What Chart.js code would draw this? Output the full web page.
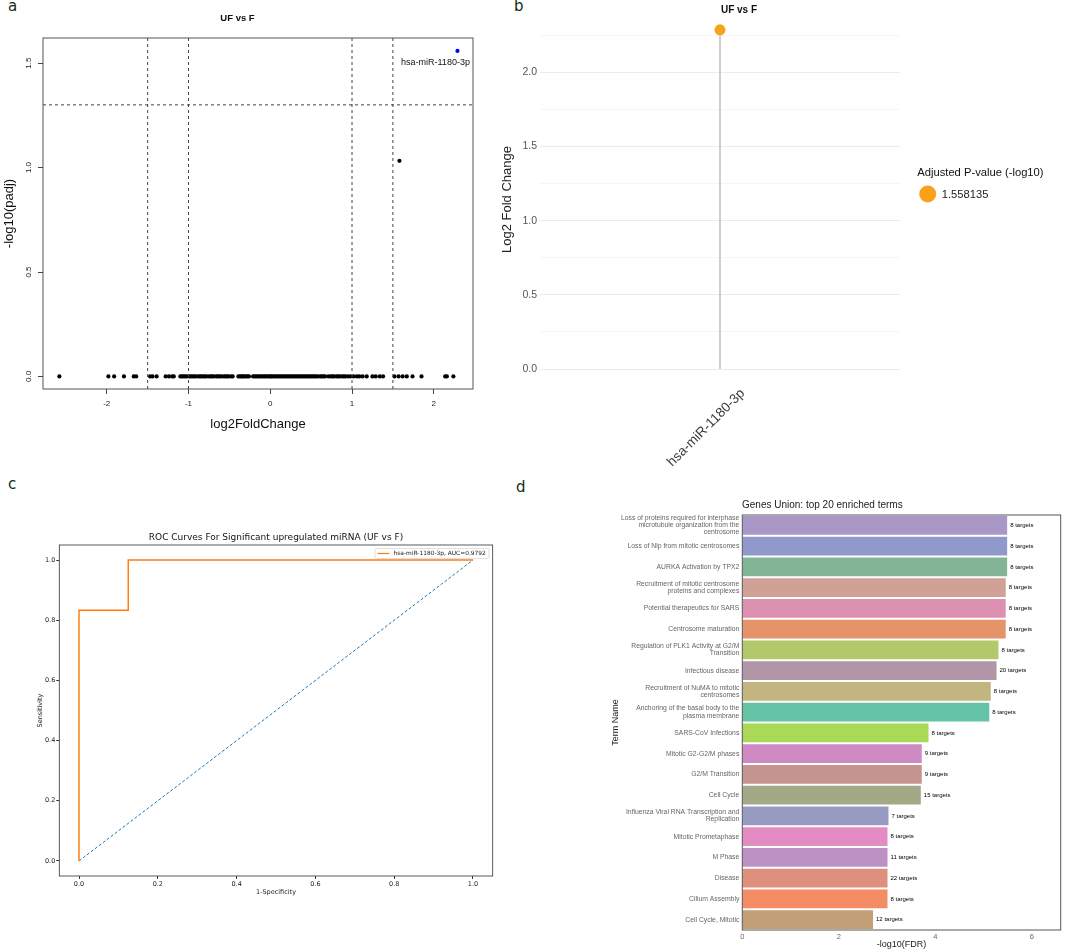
<!DOCTYPE html>
<html>
<head>
<meta charset="utf-8">
<script src="https://cdn.jsdelivr.net/npm/chart.js@4.4.0/dist/chart.umd.min.js"></script>
<style>
  body { margin: 0; background: #fff; width: 1065px; height: 951px; position: relative; overflow: hidden; }
  .panel { position: absolute; }
  .tag { position: absolute; font: 15px "DejaVu Sans", sans-serif; color: #142c14; line-height: 1; }
</style>
</head>
<body>
<div class="tag" style="left:8px;top:-1px">a</div>
<div class="tag" style="left:514px;top:-1px">b</div>
<div class="tag" style="left:8px;top:477px">c</div>
<div class="tag" style="left:516px;top:480px">d</div>

<div class="panel" style="left:0;top:0;width:500px;height:440px"><canvas id="volcano"></canvas></div>
<div class="panel" style="left:500px;top:0;width:565px;height:470px"><canvas id="lollipop"></canvas></div>
<div class="panel" style="left:0;top:470px;width:500px;height:480px"><canvas id="roc"></canvas></div>
<div class="panel" style="left:500px;top:470px;width:565px;height:480px"><canvas id="terms"></canvas></div>

<script>
// ---- panel a: volcano ----
// miRNAs whose -log10(padj) is 0
const nsFoldChange = [
  -2.58, -1.98, -1.91, -1.79, -1.67, -1.64,
  -1.47, -1.44, -1.39, -1.28, -1.24, -1.20, -1.18,
  -1.10, -1.08, -1.06, -1.04, -1.02, -0.99, -0.97, -0.95, -0.93, -0.91, -0.88, -0.86, -0.84,
  -0.82, -0.80, -0.78, -0.75, -0.73, -0.71, -0.69, -0.66, -0.64, -0.62, -0.60, -0.57, -0.55,
  -0.53, -0.51, -0.48, -0.46,
  -0.39, -0.37, -0.35, -0.34, -0.32, -0.30, -0.28, -0.26,
  -0.21, -0.19, -0.17, -0.15, -0.13, -0.11, -0.09, -0.07, -0.05, -0.03, -0.01, 0.01, 0.02,
  0.04, 0.06, 0.08, 0.10, 0.12, 0.14, 0.16, 0.18, 0.20, 0.22, 0.24, 0.26, 0.28, 0.30, 0.32,
  0.34, 0.36, 0.38, 0.40, 0.42, 0.44, 0.46, 0.48, 0.50, 0.52, 0.54, 0.56, 0.58, 0.61, 0.63,
  0.65, 0.67,
  0.71, 0.74, 0.76, 0.78, 0.81, 0.83, 0.85, 0.88, 0.90, 0.92, 0.95, 0.98, 1.02, 1.06,
  1.09, 1.13, 1.18, 1.25, 1.29, 1.34, 1.38,
  1.52, 1.57, 1.62, 1.67, 1.74, 1.85,
  2.14, 2.16, 2.24
];
const nsLog10Padj = 0;
const otherFoldChange = [1.58];
const otherLog10Padj = [1.032];
const sigNames = ['hsa-miR-1180-3p'];
const sigFoldChange = [2.29];
const sigLog10Padj = [1.558];
const fcCutoffs = [-1.5, -1, 1, 1.5];
const padjCutoff = 1.3;
const volcanoXRange = [-2.78, 2.48];
const volcanoYRange = [-0.06, 1.62];
const volcanoXTicks = [-2, -1, 0, 1, 2];
const volcanoYTicks = [0, 0.5, 1.0, 1.5];

// ---- panel b: lollipop ----
const lolliNames = ['hsa-miR-1180-3p'];
const lolliFoldChange = [2.287];
const lolliPadjLabel = ['1.558135'];
const lolliYRange = [-0.114, 2.4];
const lolliYTicks = [0, 0.25, 0.5, 0.75, 1.0, 1.25, 1.5, 1.75, 2.0, 2.25];

// ---- panel c: ROC ----
const rocFpr = [0, 0, 0.125, 0.125, 1];
const rocTpr = [0, 0.8333, 0.8333, 1, 1];
const rocAuc = '0.9792';
const chanceFpr = [0, 1];
const chanceTpr = [0, 1];
const rocTicks = [0, 0.2, 0.4, 0.6, 0.8, 1.0];

// ---- panel d: enriched terms ----
const termNames = [
  ['Loss of proteins required for interphase', 'microtubule organization from the', 'centrosome'],
  'Loss of Nlp from mitotic centrosomes',
  'AURKA Activation by TPX2',
  ['Recruitment of mitotic centrosome', 'proteins and complexes'],
  'Potential therapeutics for SARS',
  'Centrosome maturation',
  ['Regulation of PLK1 Activity at G2/M', 'Transition'],
  'Infectious disease',
  ['Recruitment of NuMA to mitotic', 'centrosomes'],
  ['Anchoring of the basal body to the', 'plasma membrane'],
  'SARS-CoV Infections',
  'Mitotic G2-G2/M phases',
  'G2/M Transition',
  'Cell Cycle',
  ['Influenza Viral RNA Transcription and', 'Replication'],
  'Mitotic Prometaphase',
  'M Phase',
  'Disease',
  'Cilium Assembly',
  'Cell Cycle, Mitotic'
];
const termLog10Fdr = [5.49, 5.49, 5.49, 5.46, 5.46, 5.46, 5.31, 5.27, 5.15, 5.12,
                      3.86, 3.72, 3.72, 3.70, 3.03, 3.01, 3.01, 3.01, 3.01, 2.71];
const termTargets = [8, 8, 8, 8, 8, 8, 8, 20, 8, 8, 8, 9, 9, 15, 7, 8, 11, 22, 8, 12];
const termXTicks = [0, 2, 4, 6];
const termPalette = ['#a997c8', '#9199cb', '#82b595', '#d0a196', '#dd91b1', '#e5946a', '#b3c76b',
                     '#b096a7', '#c3b57f', '#64c4a5', '#a9d956', '#cf8ac3', '#c6948f', '#a3a887',
                     '#979bc1', '#e38bc2', '#be91c4', '#de8f7d', '#f48c66', '#c29f77'];

const SANS = '"Liberation Sans", Arial, sans-serif';
const DEJAVU = '"DejaVu Sans", sans-serif';
Chart.defaults.font.family = SANS;
Chart.defaults.animation = false;
Chart.defaults.plugins.legend.display = false;
Chart.defaults.plugins.tooltip.enabled = false;

function txt(ctx, s, x, y, font, color, align, base, rot) {
  ctx.save();
  ctx.font = font;
  ctx.fillStyle = color;
  ctx.textAlign = align || 'center';
  ctx.textBaseline = base || 'middle';
  ctx.translate(x, y);
  if (rot) ctx.rotate(rot);
  ctx.fillText(s, 0, 0);
  ctx.restore();
}

const fixTicks = vals => scale => { scale.ticks = vals.map(v => ({ value: v })); };

function frame(color, width) {
  return {
    id: 'frame',
    afterDraw(chart) {
      const a = chart.chartArea, c = chart.ctx;
      c.save();
      c.strokeStyle = color;
      c.lineWidth = width;
      c.strokeRect(a.left, a.top, a.right - a.left, a.bottom - a.top);
      c.restore();
    }
  };
}

// volcano
const cutoffLines = fcCutoffs.map(c => ({
  data: [{ x: c, y: volcanoYRange[0] }, { x: c, y: volcanoYRange[1] }]
})).concat([{
  data: [{ x: volcanoXRange[0], y: padjCutoff }, { x: volcanoXRange[1], y: padjCutoff }]
}]).map(d => Object.assign(d, {
  showLine: true, borderColor: '#444', borderWidth: 1, borderDash: [3, 3], pointRadius: 0, clip: 0
}));

new Chart(document.getElementById('volcano'), {
  type: 'scatter',
  data: {
    datasets: cutoffLines.concat([
      { data: nsFoldChange.map(x => ({ x: x, y: nsLog10Padj })), backgroundColor: '#000', pointRadius: 2.1, borderWidth: 0 },
      { data: otherFoldChange.map((x, i) => ({ x: x, y: otherLog10Padj[i] })), backgroundColor: '#000', pointRadius: 2.1, borderWidth: 0 },
      { data: sigFoldChange.map((x, i) => ({ x: x, y: sigLog10Padj[i] })), backgroundColor: '#0000ff', pointRadius: 2.1, borderWidth: 0 }
    ])
  },
  options: {
    responsive: true,
    maintainAspectRatio: false,
    layout: { padding: { top: 38, right: 27 } },
    scales: {
      x: {
        type: 'linear', min: volcanoXRange[0], max: volcanoXRange[1],
        afterBuildTicks: fixTicks(volcanoXTicks),
        afterFit: s => { s.height = 51; },
        grid: { drawOnChartArea: false, tickLength: 5, color: '#444' },
        border: { display: false },
        ticks: { color: '#222', font: { size: 8 }, padding: 5 },
        title: { display: true, text: 'log2FoldChange', color: '#111', font: { size: 13 }, padding: { top: 0, bottom: 8 } }
      },
      y: {
        min: volcanoYRange[0], max: volcanoYRange[1],
        afterBuildTicks: fixTicks(volcanoYTicks),
        afterFit: s => { s.width = 43; },
        grid: { drawOnChartArea: false, tickLength: 5, color: '#444' },
        border: { display: false },
        ticks: { display: false },
        title: { display: true, text: '-log10(padj)', color: '#111', font: { size: 13 }, padding: { top: 2, bottom: 0 } }
      }
    }
  },
  plugins: [frame('#555', 1), {
    id: 'volcanoText',
    afterDraw(chart) {
      const c = chart.ctx, y = chart.scales.y;
      y.ticks.forEach(t => txt(c, t.value.toFixed(1), y.right - 14.5, y.getPixelForValue(t.value),
        '8px ' + SANS, '#222', 'center', 'middle', -Math.PI / 2));
      const meta = chart.getDatasetMeta(chart.data.datasets.length - 1);
      meta.data.forEach((p, i) => txt(c, sigNames[i], p.x - 22, p.y + 12, '9px ' + SANS, '#111'));
      txt(c, 'UF vs F', 237.5, 18, 'bold 9.5px ' + SANS, '#111');
    }
  }]
});

// lollipop
new Chart(document.getElementById('lollipop'), {
  type: 'bar',
  data: {
    labels: lolliNames,
    datasets: [
      { type: 'line', data: lolliFoldChange, showLine: false, pointRadius: 5.5, pointBackgroundColor: '#f8a11b', pointBorderWidth: 0, order: 0 },
      { data: lolliFoldChange.map(v => [0, v]), backgroundColor: '#c4c4c4', barThickness: 1, order: 1 }
    ]
  },
  options: {
    responsive: true,
    maintainAspectRatio: false,
    layout: { padding: { top: 13, right: 165 } },
    scales: {
      x: {
        afterFit: s => { s.height = 84; },
        grid: { display: false },
        border: { display: false },
        ticks: { display: false }
      },
      y: {
        min: lolliYRange[0], max: lolliYRange[1],
        afterBuildTicks: fixTicks(lolliYTicks),
        afterFit: s => { s.width = 40; },
        grid: { color: c => (c.tick && Math.abs(c.tick.value * 2 - Math.round(c.tick.value * 2)) < 1e-6) ? '#ebebeb' : '#f5f5f5', drawTicks: false },
        border: { display: false },
        ticks: {
          color: '#555', font: { size: 10.5 }, padding: 3,
          callback: v => Math.abs(v * 2 - Math.round(v * 2)) < 1e-6 ? v.toFixed(1) : ''
        },
        title: { display: true, text: 'Log2 Fold Change', color: '#222', font: { size: 13 }, padding: 0 }
      }
    }
  },
  plugins: [{
    id: 'lolliText',
    afterDraw(chart) {
      const c = chart.ctx, x = chart.scales.x, a = chart.chartArea;
      lolliNames.forEach((n, i) => txt(c, n, x.getPixelForValue(i) + 18, a.bottom + 0.5,
        '13.5px ' + SANS, '#3a3a3a', 'right', 'top', -Math.PI / 4));
      txt(c, 'UF vs F', 239, 10, 'bold 10px ' + SANS, '#111');
      txt(c, 'Adjusted P-value (-log10)', 417.3, 172.7, '11.2px ' + SANS, '#111', 'left');
      c.save();
      c.fillStyle = '#f8a11b';
      c.beginPath();
      c.arc(427.7, 194, 8.5, 0, Math.PI * 2);
      c.fill();
      c.restore();
      txt(c, lolliPadjLabel[0], 441.7, 194.5, '11.2px ' + SANS, '#222', 'left');
    }
  }]
});

// ROC
new Chart(document.getElementById('roc'), {
  type: 'scatter',
  data: {
    datasets: [
      { data: rocFpr.map((x, i) => ({ x: x, y: rocTpr[i] })), showLine: true, borderColor: '#ff7f0e', borderWidth: 1.5, pointRadius: 0 },
      { data: chanceFpr.map((x, i) => ({ x: x, y: chanceTpr[i] })), showLine: true, borderColor: '#1f77b4', borderWidth: 1, borderDash: [3, 2], pointRadius: 0 }
    ]
  },
  options: {
    responsive: true,
    maintainAspectRatio: false,
    layout: { padding: { top: 75, right: 7.3, bottom: 54, left: 36 } },
    scales: {
      x: {
        type: 'linear', min: -0.05, max: 1.05,
        afterBuildTicks: fixTicks(rocTicks),
        afterFit: s => { s.height = 20; },
        grid: { drawOnChartArea: false, tickLength: 3, color: '#333' },
        border: { display: false },
        ticks: { color: '#222', font: { size: 6.5, family: DEJAVU }, padding: 1, callback: v => v.toFixed(1) },
        title: { display: true, text: '1-Specificity', color: '#222', font: { size: 6.5, family: DEJAVU }, padding: 0 }
      },
      y: {
        min: -0.05, max: 1.05,
        afterBuildTicks: fixTicks(rocTicks),
        afterFit: s => { s.width = 23.3; },
        grid: { drawOnChartArea: false, tickLength: 3, color: '#333' },
        border: { display: false },
        ticks: { color: '#222', font: { size: 6.5, family: DEJAVU }, padding: 1, callback: v => v.toFixed(1) },
        title: { display: true, text: 'Sensitivity', color: '#222', font: { size: 6.5, family: DEJAVU }, padding: 0 }
      }
    }
  },
  plugins: [frame('#333', 0.8), {
    id: 'rocText',
    afterDraw(chart) {
      const c = chart.ctx;
      txt(c, 'ROC Curves For Significant upregulated miRNA (UF vs F)', 276, 68, '9px ' + DEJAVU, '#111');
      c.save();
      c.fillStyle = 'rgba(255,255,255,0.8)';
      c.strokeStyle = '#d8d8d8';
      c.lineWidth = 0.8;
      c.beginPath();
      c.roundRect(375, 78.5, 114, 10, 1.5);
      c.fill();
      c.stroke();
      c.strokeStyle = '#ff7f0e';
      c.lineWidth = 1.2;
      c.beginPath();
      c.moveTo(377.5, 83.5);
      c.lineTo(389.5, 83.5);
      c.stroke();
      c.restore();
      txt(c, sigNames[0] + ', AUC=' + rocAuc, 393.5, 83.5, '5.9px ' + DEJAVU, '#222', 'left');
    }
  }]
});

// enriched terms
new Chart(document.getElementById('terms'), {
  type: 'bar',
  data: {
    labels: termNames,
    datasets: [{ data: termLog10Fdr, backgroundColor: termPalette, barPercentage: 0.9, categoryPercentage: 1 }]
  },
  options: {
    indexAxis: 'y',
    responsive: true,
    maintainAspectRatio: false,
    layout: { padding: { top: 45, right: 4.3, left: 110 } },
    scales: {
      x: {
        min: 0, max: 6.6,
        afterBuildTicks: fixTicks(termXTicks),
        afterFit: s => { s.height = 20; },
        grid: { display: false, drawTicks: false },
        border: { display: false },
        ticks: { color: '#666', font: { size: 7.5 }, padding: 2 },
        title: { display: true, text: '-log10(FDR)', color: '#222', font: { size: 9 }, padding: 0 }
      },
      y: {
        afterFit: s => { s.width = 132.3; },
        grid: { display: false, drawTicks: false },
        border: { display: false },
        ticks: { color: '#666', font: { size: 6.8, lineHeight: 1.05 }, padding: 3, autoSkip: false },
        title: { display: true, text: 'Term Name', color: '#222', font: { size: 9 }, padding: 0 }
      }
    }
  },
  plugins: [frame('#555', 1), {
    id: 'termText',
    afterDraw(chart) {
      const c = chart.ctx;
      chart.getDatasetMeta(0).data.forEach((bar, i) =>
        txt(c, termTargets[i] + ' targets', bar.x + 3, bar.y, '6px ' + SANS, '#000', 'left'));
      txt(c, 'Genes Union: top 20 enriched terms', 242, 35, '10px ' + SANS, '#222', 'left');
    }
  }]
});
</script>
</body>
</html>
